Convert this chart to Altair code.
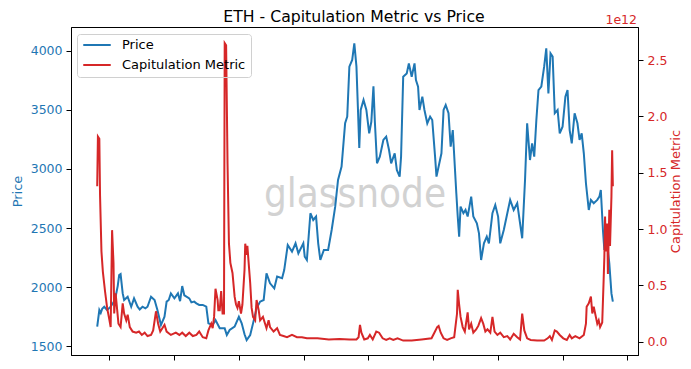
import altair as alt
import pandas as pd

BLUE = "#1f77b4"
RED = "#d62728"
FONT = "DejaVu Sans"

price_dates = [
    "2023-03-15", "2023-03-18", "2023-03-20", "2023-03-22", "2023-03-25", "2023-03-29",
    "2023-04-03", "2023-04-07", "2023-04-10", "2023-04-13", "2023-04-15", "2023-04-17",
    "2023-04-20", "2023-04-22", "2023-04-27", "2023-05-02", "2023-05-06", "2023-05-11",
    "2023-05-14", "2023-05-18", "2023-05-22", "2023-05-25", "2023-05-30", "2023-06-04",
    "2023-06-08", "2023-06-13", "2023-06-18", "2023-06-21", "2023-06-24", "2023-06-27",
    "2023-07-02", "2023-07-07", "2023-07-10", "2023-07-13", "2023-07-16", "2023-07-19",
    "2023-07-23", "2023-07-26", "2023-07-30", "2023-08-02", "2023-08-06", "2023-08-11",
    "2023-08-16", "2023-08-19", "2023-08-25", "2023-08-29", "2023-09-04", "2023-09-11",
    "2023-09-14", "2023-09-18", "2023-09-25", "2023-10-01", "2023-10-05", "2023-10-09",
    "2023-10-12", "2023-10-17", "2023-10-21", "2023-10-26", "2023-10-31", "2023-11-05",
    "2023-11-09", "2023-11-14", "2023-11-20", "2023-11-24", "2023-12-01", "2023-12-04",
    "2023-12-09", "2023-12-15", "2023-12-20", "2023-12-24", "2023-12-31", "2024-01-02",
    "2024-01-05", "2024-01-10", "2024-01-14", "2024-01-18", "2024-01-21", "2024-01-24",
    "2024-01-29", "2024-02-04", "2024-02-09", "2024-02-14", "2024-02-18", "2024-02-23",
    "2024-02-28", "2024-03-02", "2024-03-05", "2024-03-09", "2024-03-12", "2024-03-15",
    "2024-03-17", "2024-03-19", "2024-03-21", "2024-03-25", "2024-03-29", "2024-04-02",
    "2024-04-05", "2024-04-08", "2024-04-10", "2024-04-13", "2024-04-17", "2024-04-22",
    "2024-04-26", "2024-04-30", "2024-05-03", "2024-05-08", "2024-05-11", "2024-05-15",
    "2024-05-17", "2024-05-20", "2024-05-25", "2024-05-28", "2024-06-01", "2024-06-05",
    "2024-06-07", "2024-06-10", "2024-06-12", "2024-06-16", "2024-06-19", "2024-06-23",
    "2024-06-27", "2024-06-30", "2024-07-04", "2024-07-06", "2024-07-10", "2024-07-13",
    "2024-07-16", "2024-07-19", "2024-07-23", "2024-07-26", "2024-07-29", "2024-08-03",
    "2024-08-05", "2024-08-07", "2024-08-09", "2024-08-13", "2024-08-16", "2024-08-19",
    "2024-08-24", "2024-08-27", "2024-09-01", "2024-09-04", "2024-09-07", "2024-09-11",
    "2024-09-15", "2024-09-18", "2024-09-23", "2024-09-27", "2024-10-01", "2024-10-04",
    "2024-10-09", "2024-10-14", "2024-10-18", "2024-10-23", "2024-10-28", "2024-11-01",
    "2024-11-04", "2024-11-08", "2024-11-11", "2024-11-15", "2024-11-18", "2024-11-21",
    "2024-11-24", "2024-11-27", "2024-12-01", "2024-12-05", "2024-12-08", "2024-12-11",
    "2024-12-14", "2024-12-17", "2024-12-20", "2024-12-24", "2024-12-27", "2024-12-31",
    "2025-01-04", "2025-01-07", "2025-01-10", "2025-01-13", "2025-01-17", "2025-01-21",
    "2025-01-24", "2025-01-27", "2025-01-30", "2025-02-02", "2025-02-06", "2025-02-09",
    "2025-02-13", "2025-02-18", "2025-02-21", "2025-02-23", "2025-02-26", "2025-02-28",
    "2025-03-04", "2025-03-07", "2025-03-10", "2025-03-12",
]
price_values = [
    1664, 1805, 1780, 1815, 1833, 1805,
    1833, 1870, 1918, 2010, 2102, 2110,
    1946, 1890, 1918, 1833, 1904, 1833,
    1810, 1833, 1820, 1833, 1918, 1890,
    1805, 1678, 1748, 1876, 1890, 1946,
    1904, 1946, 1880, 2008, 1930, 1918,
    1904, 1870, 1876, 1862, 1848, 1848,
    1833, 1692, 1678, 1720, 1650, 1650,
    1593, 1636, 1664, 1748, 1692, 1600,
    1551, 1593, 1692, 1819, 1876, 1890,
    2116, 2031, 1989, 2088, 2074, 2144,
    2356, 2300, 2370, 2285, 2370, 2257,
    2229, 2625, 2568, 2597, 2370, 2229,
    2314, 2314, 2483, 2681, 2907, 3020,
    3387, 3444, 3867, 3924, 4065, 3867,
    3528, 3178, 3500, 3585, 3500, 3302,
    3400, 3700, 3400, 3048, 3105, 3246,
    3274, 3161, 3048, 3133, 2992, 2935,
    3105, 3782, 3810, 3895, 3782, 3895,
    3754, 3698, 3500, 3613, 3500, 3387,
    3444, 3415, 3105, 2935, 3048, 3133,
    3500, 3542, 3472, 3190, 3330, 2794,
    2597, 2427, 2681, 2625, 2653, 2597,
    2766, 2597, 2540, 2455, 2229, 2370,
    2427, 2370, 2625, 2695, 2597, 2370,
    2483, 2625, 2738, 2653, 2710, 2540,
    2413, 2907, 3387, 3076, 3217, 3105,
    3415, 3669, 3698, 3867, 4023, 3641,
    3980, 3952, 3472, 3500, 3302, 3358,
    3613, 3669, 3330, 3217, 3472, 3387,
    3246, 3302, 3133, 2879, 2653, 2738,
    2710, 2738, 2766, 2822, 2483, 2314,
    2370, 2201, 1946, 1876,
]

# Capitulation Metric, in units of 1e12
cap_dates = [
    "2023-03-15", "2023-03-16", "2023-03-18", "2023-03-19", "2023-03-21", "2023-03-23",
    "2023-03-26", "2023-03-29", "2023-04-01", "2023-04-03", "2023-04-05", "2023-04-07",
    "2023-04-08", "2023-04-10", "2023-04-14", "2023-04-17", "2023-04-20", "2023-04-22",
    "2023-04-25", "2023-04-27", "2023-04-30", "2023-05-04", "2023-05-09", "2023-05-13",
    "2023-05-17", "2023-05-21", "2023-05-25", "2023-05-30", "2023-06-02", "2023-06-06",
    "2023-06-09", "2023-06-12", "2023-06-15", "2023-06-18", "2023-06-21", "2023-06-27",
    "2023-07-04", "2023-07-09", "2023-07-13", "2023-07-18", "2023-07-23", "2023-07-28",
    "2023-08-02", "2023-08-06", "2023-08-11", "2023-08-16", "2023-08-19", "2023-08-23",
    "2023-08-25", "2023-08-27", "2023-08-29", "2023-09-01", "2023-09-02", "2023-09-04",
    "2023-09-06", "2023-09-08", "2023-09-10", "2023-09-11", "2023-09-13", "2023-09-15",
    "2023-09-17", "2023-09-19", "2023-09-22", "2023-09-25", "2023-09-27", "2023-09-29",
    "2023-10-01", "2023-10-04", "2023-10-06", "2023-10-09", "2023-10-10", "2023-10-12",
    "2023-10-13", "2023-10-17", "2023-10-19", "2023-10-21", "2023-10-24", "2023-10-26",
    "2023-10-29", "2023-10-31", "2023-11-04", "2023-11-07", "2023-11-09", "2023-11-12",
    "2023-11-14", "2023-11-19", "2023-11-24", "2023-11-28", "2023-12-03", "2023-12-08",
    "2023-12-15", "2023-12-22", "2023-12-29", "2024-01-05", "2024-01-20", "2024-02-05",
    "2024-02-20", "2024-03-05", "2024-03-15", "2024-03-18", "2024-03-20", "2024-03-22",
    "2024-03-26", "2024-03-31", "2024-04-03", "2024-04-07", "2024-04-12", "2024-04-16",
    "2024-04-21", "2024-04-26", "2024-05-01", "2024-05-06", "2024-05-12", "2024-05-20",
    "2024-06-01", "2024-06-15", "2024-06-29", "2024-07-03", "2024-07-07", "2024-07-09",
    "2024-07-12", "2024-07-16", "2024-07-21", "2024-07-26", "2024-07-31", "2024-08-04",
    "2024-08-05", "2024-08-07", "2024-08-09", "2024-08-12", "2024-08-15", "2024-08-19",
    "2024-08-21", "2024-08-24", "2024-08-27", "2024-08-31", "2024-09-03", "2024-09-07",
    "2024-09-10", "2024-09-13", "2024-09-16", "2024-09-20", "2024-09-23", "2024-09-26",
    "2024-09-30", "2024-10-04", "2024-10-09", "2024-10-14", "2024-10-18", "2024-10-23",
    "2024-10-28", "2024-11-01", "2024-11-04", "2024-11-07", "2024-11-11", "2024-11-16",
    "2024-11-25", "2024-12-05", "2024-12-10", "2024-12-13", "2024-12-16", "2024-12-20",
    "2024-12-23", "2024-12-27", "2025-01-01", "2025-01-06", "2025-01-10", "2025-01-13",
    "2025-01-18", "2025-01-24", "2025-01-30", "2025-02-02", "2025-02-03", "2025-02-06",
    "2025-02-09", "2025-02-11", "2025-02-13", "2025-02-16", "2025-02-18", "2025-02-20",
    "2025-02-22", "2025-02-25", "2025-02-27", "2025-02-28", "2025-03-01", "2025-03-02",
    "2025-03-04", "2025-03-05", "2025-03-07", "2025-03-08", "2025-03-10", "2025-03-11",
    "2025-03-12",
]
cap_values = [
    1.38, 1.82, 1.80, 1.30, 0.80, 0.62,
    0.45, 0.30, 0.20, 0.13, 0.99, 0.70,
    0.25, 0.43, 0.16, 0.13, 0.34, 0.25,
    0.19, 0.24, 0.13, 0.09, 0.08, 0.09,
    0.06, 0.08, 0.05, 0.06, 0.10, 0.27,
    0.16, 0.09, 0.12, 0.15, 0.09, 0.06,
    0.08, 0.06, 0.08, 0.05, 0.08, 0.05,
    0.06, 0.09, 0.04, 0.03, 0.10, 0.16,
    0.12, 0.22, 0.47, 0.37, 0.28, 0.28,
    0.45, 0.25, 0.25, 2.65, 2.63, 1.58,
    0.87, 0.70, 0.61, 0.40, 0.33, 0.30,
    0.36, 0.25, 0.33, 0.64, 0.87, 0.77,
    0.85, 0.52, 0.30, 0.22, 0.19, 0.37,
    0.28, 0.19, 0.22, 0.16, 0.12, 0.19,
    0.13, 0.09, 0.12, 0.06, 0.05, 0.04,
    0.06, 0.04, 0.04, 0.03, 0.03, 0.02,
    0.025, 0.02, 0.02, 0.04, 0.15, 0.08,
    0.02, 0.03, 0.06, 0.02, 0.09, 0.08,
    0.03, 0.015, 0.03, 0.015, 0.03, 0.01,
    0.01, 0.02, 0.03, 0.08, 0.13, 0.14,
    0.08, 0.03, 0.015, 0.03, 0.04, 0.25,
    0.46, 0.33, 0.22, 0.13, 0.09, 0.26,
    0.11, 0.16, 0.08, 0.11, 0.14, 0.21,
    0.16, 0.09, 0.11, 0.08, 0.22, 0.09,
    0.06, 0.08, 0.04, 0.05, 0.02, 0.07,
    0.04, 0.02, 0.25, 0.10, 0.03, 0.015,
    0.01, 0.01, 0.03, 0.05, 0.015, 0.10,
    0.09, 0.06, 0.03, 0.015, 0.06, 0.03,
    0.05, 0.03, 0.06, 0.16, 0.31, 0.34,
    0.40, 0.25, 0.31, 0.22, 0.16, 0.19,
    0.13, 0.17, 0.55, 0.75, 1.11, 0.80,
    1.05, 0.60, 1.17, 0.85, 1.29, 1.70,
    1.38,
]

price_ticks = [1500, 2000, 2500, 3000, 3500, 4000]
cap_ticks = [0.0, 0.5, 1.0, 1.5, 2.0, 2.5]
x_tick_dates = [(2023, 4), (2023, 7), (2023, 10), (2024, 1), (2024, 4),
                (2024, 7), (2024, 10), (2025, 1), (2025, 4)]
series_names = ["Price", "Capitulation Metric"]
title_text = "ETH - Capitulation Metric vs Price"

assert len(price_dates) == len(price_values)
assert len(cap_dates) == len(cap_values)

price_df = pd.DataFrame({"date": price_dates, "value": price_values, "series": series_names[0]})
cap_df = pd.DataFrame({"date": cap_dates, "value": cap_values, "series": series_names[1]})

x_scale = alt.Scale(
    type="utc",
    domain=[alt.DateTime(year=2023, month=2, date=6, utc=True),
            alt.DateTime(year=2025, month=4, date=16, hours=12, utc=True)],
)
x_axis = alt.Axis(
    values=[alt.DateTime(year=y, month=m, date=1, utc=True) for y, m in x_tick_dates],
    labels=False, title=None, grid=False, tickSize=5,
)
x_enc = alt.X("date:T", scale=x_scale, axis=x_axis)

color_enc = alt.Color(
    "series:N",
    scale=alt.Scale(domain=series_names, range=[BLUE, RED]),
    legend=alt.Legend(
        title=None, orient="none", legendX=6, legendY=7,
        symbolType="stroke", symbolSize=756, symbolStrokeWidth=2,
        clipHeight=12, rowPadding=7, padding=5, labelOffset=10,
        labelFontSize=13, labelFont=FONT, labelColor="black",
        strokeColor="#d0d0d0", cornerRadius=3,
    ),
)

watermark = alt.Chart(pd.DataFrame({"t": ["glassnode"]})).mark_text(
    font="DejaVu Sans Condensed, DejaVu Sans, sans-serif",
    fontSize=40, color="#d2d2d2", align="center", baseline="alphabetic",
).encode(text="t:N", x=alt.value(284), y=alt.value(180))

price_line = alt.Chart(price_df).mark_line(strokeWidth=2).encode(
    x=x_enc,
    y=alt.Y("value:Q",
            scale=alt.Scale(domain=[1424, 4203], nice=False, zero=False),
            axis=alt.Axis(orient="left", values=price_ticks, format="d", title="Price",
                          titleColor=BLUE, labelColor=BLUE, grid=False,
                          tickSize=5, labelPadding=4, titlePadding=6)),
    color=color_enc,
)

cap_line = alt.Chart(cap_df).mark_line(strokeWidth=2).encode(
    x=x_enc,
    y=alt.Y("value:Q",
            scale=alt.Scale(domain=[-0.118, 2.793], nice=False, zero=False),
            axis=alt.Axis(orient="right", values=cap_ticks, format=".1f",
                          title="Capitulation Metric", titleColor=RED, labelColor=RED,
                          grid=False, tickSize=5, labelPadding=4, titlePadding=3,
                          titleAngle=270, titleBaseline="top")),
    color=color_enc,
)

offset_text = alt.Chart(pd.DataFrame({"t": ["1e12"]})).mark_text(
    font=FONT, fontSize=12.5, color=RED, align="right", baseline="alphabetic",
).encode(text="t:N", x=alt.value(566), y=alt.value(-3.5))

title_mark = alt.Chart(pd.DataFrame({"t": [title_text]})).mark_text(
    font=FONT, fontSize=15.7, color="black", align="center", baseline="alphabetic",
).encode(text="t:N", x=alt.value(283), y=alt.value(-5))

chart = alt.layer(watermark, price_line, cap_line, offset_text, title_mark).resolve_scale(
    y="independent"
).properties(
    width=567, height=328,
    autosize=alt.AutoSizeParams(type="none"),
    padding={"left": 63, "top": 19, "right": 45, "bottom": 6},
).configure_view(
    stroke="black", strokeWidth=1,
).configure_axis(
    labelFont=FONT, titleFont=FONT, labelFontSize=12.5, titleFontSize=13,
    titleFontWeight="normal", domainColor="black", tickColor="black",
)

chart.save("out.html", embed_options={"renderer": "svg", "actions": False})
